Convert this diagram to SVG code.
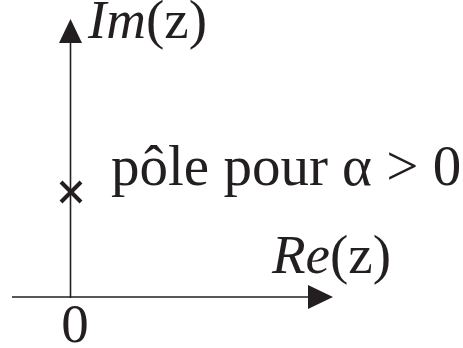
<svg xmlns="http://www.w3.org/2000/svg" width="463" height="348" viewBox="0 0 463 348">
<style>
.ax{stroke:#231f20;stroke-width:1.6;fill:none}
.hd{fill:#231f20}
.t{font-family:"Liberation Serif","Times New Roman",serif;fill:#231f20;font-size:55px}
.i{font-style:italic}
</style>
<rect width="463" height="348" fill="#fff"/>
<g id="connectors">
<line class="ax" x1="70.5" y1="298" x2="70.5" y2="40"/>
<polygon class="hd" points="70.5,19 59,43 82,43"/>
<line class="ax" x1="12" y1="297" x2="310" y2="297"/>
<polygon class="hd" points="333,297 308,285 308,309"/>
</g>
<g id="im-label"><text class="t" x="88" y="38"><tspan class="i">Im</tspan>(z)</text></g>
<g id="re-label"><text class="t" x="272" y="273"><tspan class="i">Re</tspan>(z)</text></g>
<g id="origin"><text class="t" x="75" y="342" text-anchor="middle">0</text></g>
<g id="pole">
<path d="M61,182 L81,202 M81,182 L61,202" stroke="#231f20" stroke-width="4" fill="none"/>
<text class="t" x="111" y="185" style="font-size:57px">pôle pour α &gt; 0</text>
</g>
</svg>
